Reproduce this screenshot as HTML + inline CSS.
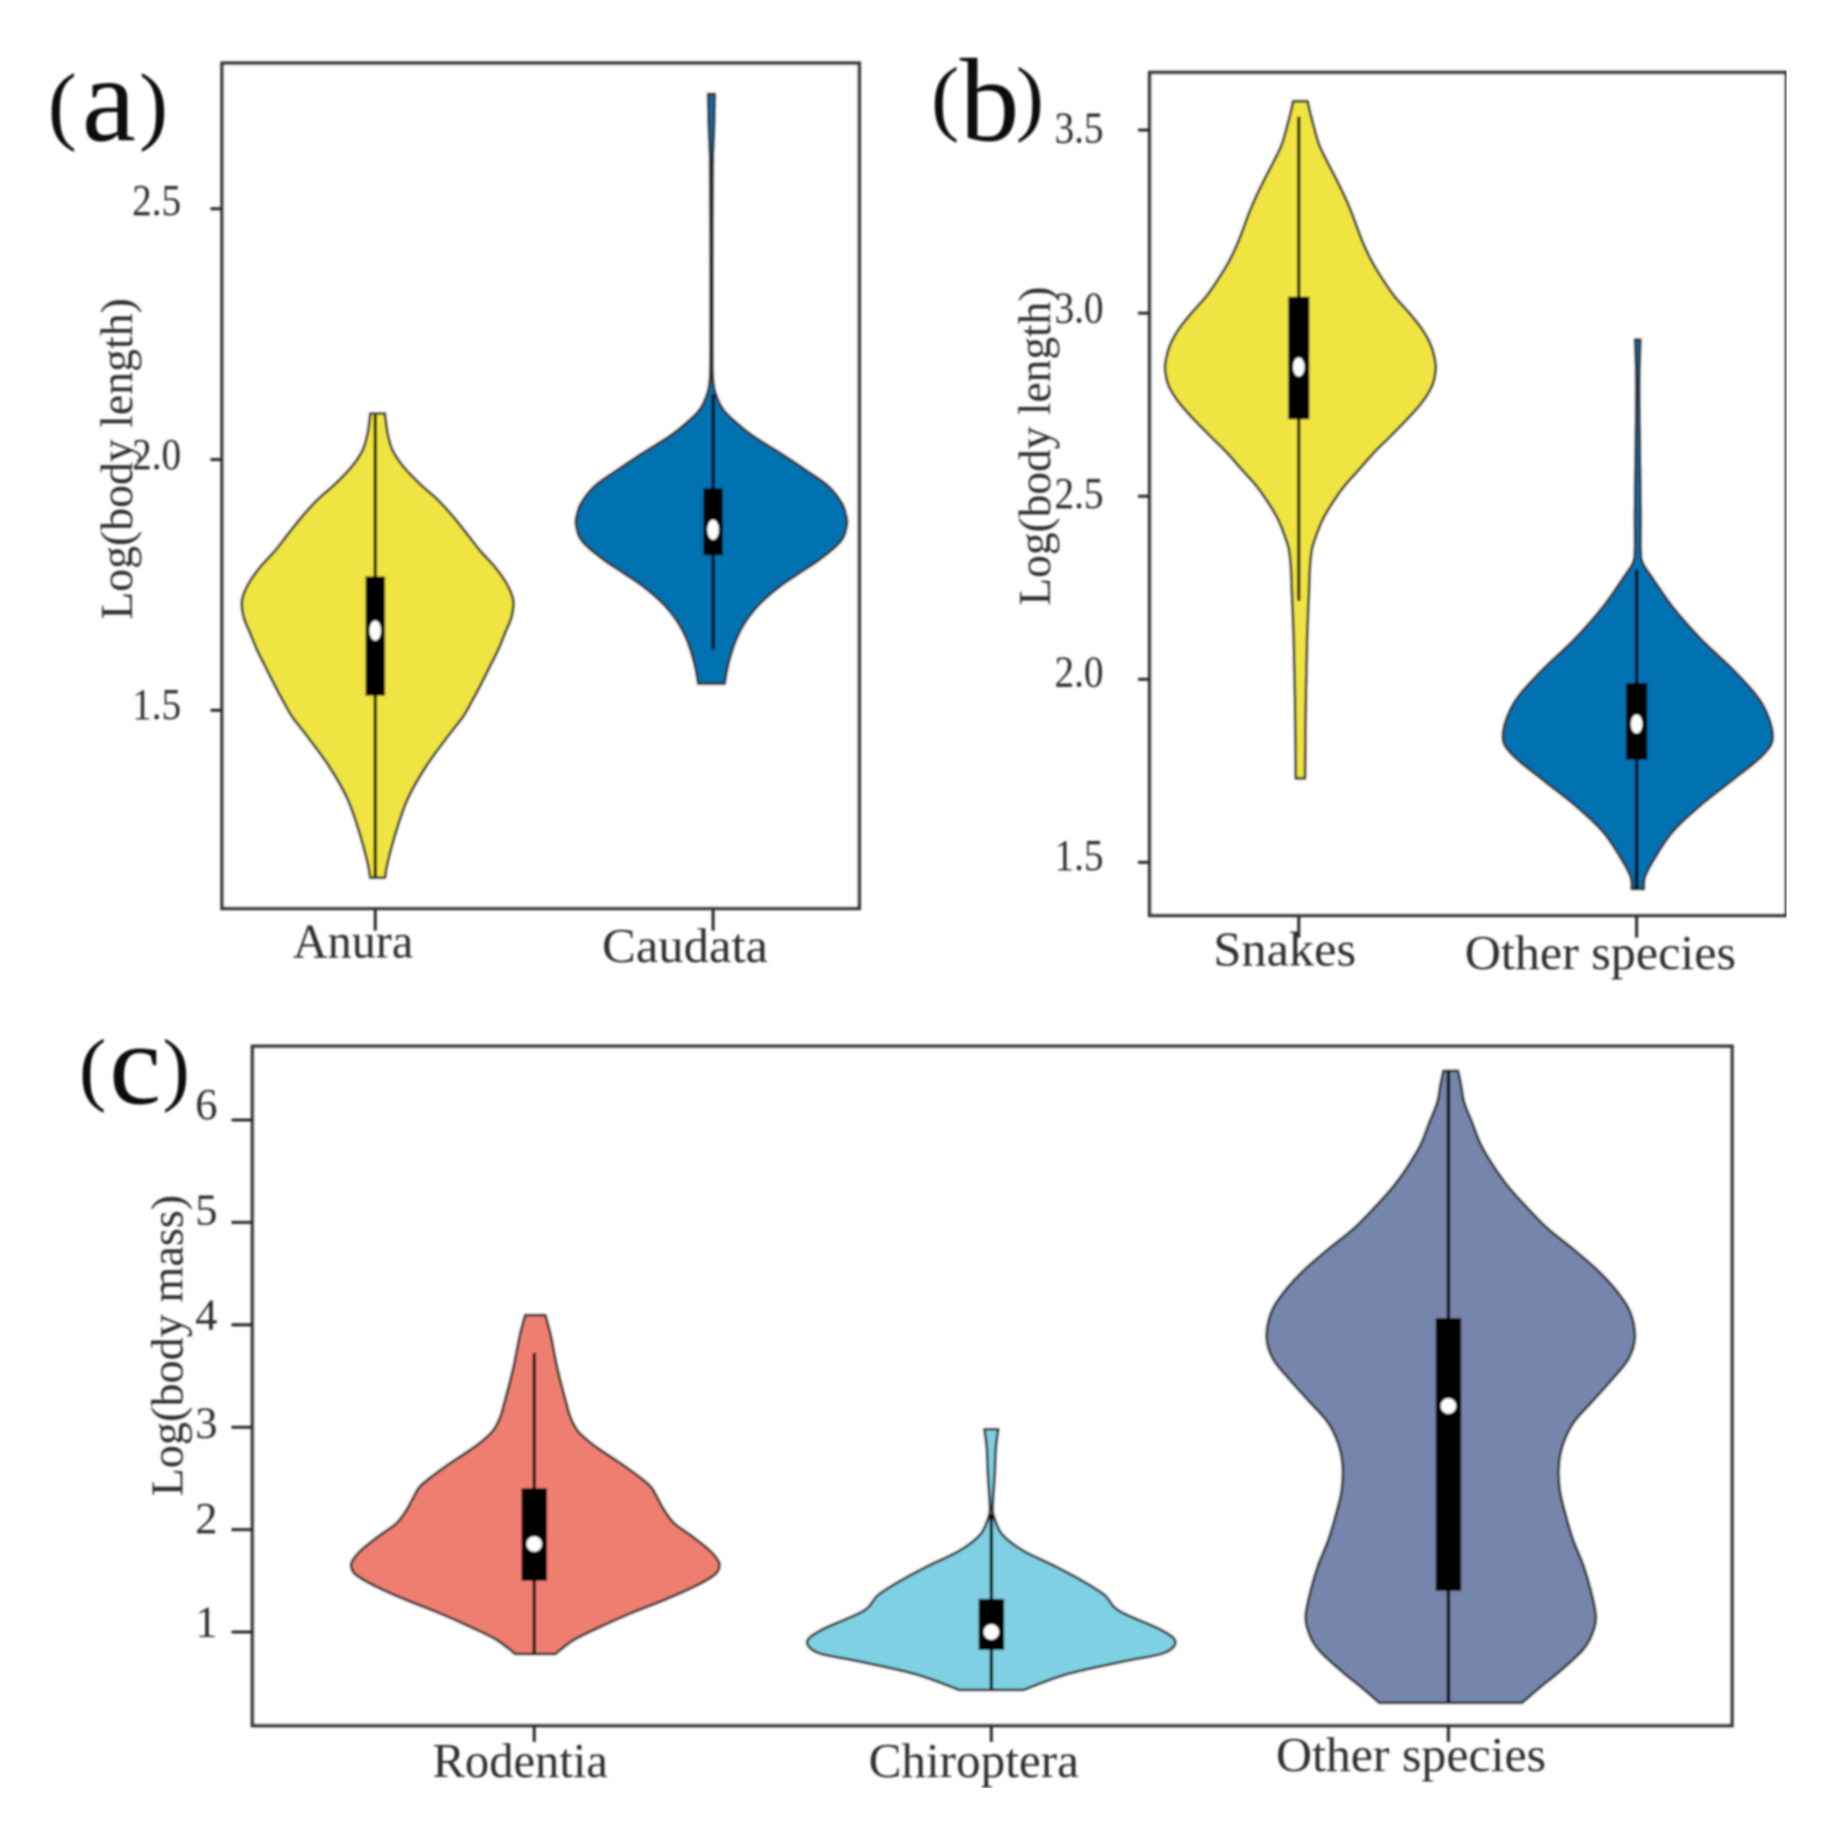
<!DOCTYPE html>
<html lang="en">
<head>
<meta charset="utf-8">
<title>Violin plots of body length and body mass</title>
<style>
  html, body { margin: 0; padding: 0; background: #fff; }
  svg { display: block; }
  text { font-family: "Liberation Serif", "Times New Roman", serif; fill: #2e2e2e; }
</style>
</head>
<body>
<svg id="figure" xmlns="http://www.w3.org/2000/svg" width="1833" height="1825" viewBox="0 0 1568 1561">
  <defs>
    <filter id="soft" x="0" y="0" width="100%" height="100%" filterUnits="objectBoundingBox">
      <feGaussianBlur stdDeviation="0.8"/>
    </filter>
  </defs>
  <rect x="0" y="0" width="1568" height="1561" fill="#ffffff"/>
  <g id="plot-root" filter="url(#soft)">
    <g id="panel-a"></g>
    <g id="panel-b"></g>
    <g id="panel-c"></g>
    <text style="fill:#111"><tspan x="41" y="114" font-size="74">(</tspan><tspan x="70" y="120" font-size="104">a</tspan><tspan x="119" y="114" font-size="74">)</tspan></text>
    <text style="fill:#111"><tspan x="796.5" y="107" font-size="72">(</tspan><tspan x="821" y="120" font-size="102">b</tspan><tspan x="869" y="107" font-size="72">)</tspan></text>
    <text style="fill:#111"><tspan x="67.6" y="937" font-size="70">(</tspan><tspan x="93.5" y="944" font-size="100">c</tspan><tspan x="139" y="937" font-size="70">)</tspan></text>
    <text transform="translate(113 530) rotate(-90)" font-size="39" textLength="275" lengthAdjust="spacingAndGlyphs">Log(body length)</text>
    <text transform="translate(898 518) rotate(-90)" font-size="39" textLength="273" lengthAdjust="spacingAndGlyphs">Log(body length)</text>
    <text transform="translate(156 1280) rotate(-90)" font-size="39" textLength="258" lengthAdjust="spacingAndGlyphs">Log(body mass)</text>
  </g>
</svg>
<script>
// ---------- Panel (a) data ----------
const panelACategories = ['Anura', 'Caudata'];
const panelATicks = [1.5, 2.0, 2.5];
const panelATickLabels = ['1.5', '2.0', '2.5'];
const anuraValues = [2.092, 2.052, 2.019, 1.986, 1.952, 1.919, 1.886, 1.853, 1.819, 1.786, 1.753, 1.720, 1.686, 1.653, 1.620, 1.587, 1.554, 1.520, 1.487, 1.452, 1.389, 1.325, 1.261, 1.197, 1.166];
const anuraDensity = [0.054, 0.074, 0.11, 0.19, 0.31, 0.447, 0.558, 0.656, 0.754, 0.865, 0.951, 1.0, 0.988, 0.939, 0.889, 0.828, 0.767, 0.70, 0.63, 0.53, 0.36, 0.225, 0.14, 0.075, 0.055];
const anuraBox = { low: 1.166, q1: 1.529, median: 1.659, q3: 1.767, high: 2.089 };
const caudataValues = [2.729, 2.662, 2.586, 2.408, 2.204, 2.16, 2.138, 2.112, 2.092, 2.065, 2.045, 2.012, 1.979, 1.946, 1.912, 1.886, 1.872, 1.846, 1.826, 1.799, 1.773, 1.746, 1.713, 1.680, 1.646, 1.613, 1.580, 1.553];
const caudataDensity = [0.025, 0.02, 0.01, 0.008, 0.008, 0.012, 0.024, 0.06, 0.11, 0.22, 0.317, 0.512, 0.695, 0.866, 0.963, 0.995, 1.0, 0.975, 0.915, 0.79, 0.646, 0.50, 0.36, 0.26, 0.19, 0.146, 0.115, 0.098];
const caudataBox = { low: 1.621, q1: 1.809, median: 1.86, q3: 1.943, high: 2.13 };

// ---------- Panel (b) data ----------
const panelBCategories = ['Snakes', 'Other species'];
const panelBTicks = [1.5, 2.0, 2.5, 3.0, 3.5];
const panelBTickLabels = ['1.5', '2.0', '2.5', '3.0', '3.5'];
const snakesValues = [3.579, 3.55, 3.505, 3.459, 3.413, 3.368, 3.322, 3.276, 3.231, 3.185, 3.139, 3.094, 3.048, 3.002, 2.957, 2.911, 2.865, 2.838, 2.801, 2.756, 2.71, 2.664, 2.619, 2.573, 2.527, 2.482, 2.436, 2.39, 2.354, 2.30, 2.249, 2.109, 1.934, 1.729];
const snakesDensity = [0.054, 0.071, 0.103, 0.14, 0.20, 0.263, 0.324, 0.378, 0.423, 0.472, 0.533, 0.607, 0.693, 0.803, 0.90, 0.968, 1.0, 1.0, 0.975, 0.90, 0.79, 0.668, 0.545, 0.435, 0.324, 0.238, 0.165, 0.115, 0.085, 0.07, 0.065, 0.05, 0.04, 0.035];
const snakesBox = { low: 2.214, q1: 2.71, median: 2.853, q3: 3.045, high: 3.537 };
const otherLengthValues = [2.928, 2.809, 2.634, 2.459, 2.354, 2.319, 2.284, 2.197, 2.109, 2.021, 1.934, 1.846, 1.794, 1.724, 1.654, 1.584, 1.514, 1.462, 1.427];
const otherLengthDensity = [0.02, 0.012, 0.016, 0.022, 0.022, 0.035, 0.095, 0.26, 0.47, 0.72, 0.92, 1.0, 0.93, 0.70, 0.46, 0.26, 0.13, 0.055, 0.045];
const otherLengthBox = { low: 1.427, q1: 1.78, median: 1.878, q3: 1.99, high: 2.30 };

// ---------- Panel (c) data ----------
const panelCCategories = ['Rodentia', 'Chiroptera', 'Other species'];
const panelCTicks = [1, 2, 3, 4, 5, 6];
const panelCTickLabels = ['1', '2', '3', '4', '5', '6'];
const rodentiaValues = [4.095, 3.916, 3.754, 3.591, 3.428, 3.266, 3.103, 2.973, 2.875, 2.777, 2.647, 2.517, 2.42, 2.322, 2.191, 2.061, 1.931, 1.801, 1.703, 1.638, 1.557, 1.443, 1.312, 1.182, 1.052, 0.922, 0.785];
const rodentiaDensity = [0.055, 0.082, 0.10, 0.118, 0.14, 0.164, 0.19, 0.227, 0.282, 0.355, 0.464, 0.564, 0.627, 0.66, 0.70, 0.755, 0.855, 0.945, 0.991, 1.0, 0.973, 0.864, 0.70, 0.518, 0.355, 0.209, 0.109];
const rodentiaBox = { low: 0.785, q1: 1.499, median: 1.859, q3: 2.405, high: 3.726 };
const chiropteraValues = [2.98, 2.80, 2.543, 2.3, 2.183, 2.106, 1.952, 1.797, 1.643, 1.489, 1.36, 1.206, 1.026, 0.907, 0.794, 0.717, 0.589, 0.434];
const chiropteraDensity = [0.038, 0.025, 0.019, 0.01, 0.008, 0.018, 0.06, 0.171, 0.346, 0.505, 0.616, 0.695, 0.917, 1.0, 0.937, 0.73, 0.413, 0.175];
const chiropteraBox = { low: 0.434, q1: 0.825, median: 1.0, q3: 1.324, high: 2.157 };
const otherMassValues = [6.481, 6.337, 6.173, 5.968, 5.762, 5.557, 5.351, 5.146, 4.94, 4.734, 4.529, 4.324, 4.118, 3.871, 3.666, 3.46, 3.255, 3.05, 2.844, 2.638, 2.392, 2.145, 1.899, 1.652, 1.405, 1.159, 0.994, 0.83, 0.624, 0.46, 0.308];
const otherMassDensity = [0.04, 0.057, 0.073, 0.118, 0.163, 0.23, 0.312, 0.414, 0.527, 0.669, 0.80, 0.904, 0.976, 1.0, 0.965, 0.873, 0.771, 0.669, 0.612, 0.588, 0.592, 0.624, 0.665, 0.72, 0.761, 0.788, 0.771, 0.72, 0.598, 0.486, 0.388];
const otherMassBox = { low: 0.308, q1: 1.401, median: 3.207, q3: 4.066, high: 6.481 };

// ---------- Rendering ----------
const SVG_NS = 'http://www.w3.org/2000/svg';
const INK = '#2c2c2c';

function make(parent, tag, attrs) {
  const node = document.createElementNS(SVG_NS, tag);
  for (const key in attrs) node.setAttribute(key, attrs[key]);
  parent.appendChild(node);
  return node;
}

function linearScale(d0, r0, d1, r1) {
  return function (v) { return r0 + (v - d0) * (r1 - r0) / (d1 - d0); };
}

function smoothSegments(pts) {
  let d = '';
  for (let i = 0; i < pts.length - 1; i++) {
    const p0 = pts[Math.max(i - 1, 0)];
    const p1 = pts[i];
    const p2 = pts[i + 1];
    const p3 = pts[Math.min(i + 2, pts.length - 1)];
    const c1x = p1[0] + (p2[0] - p0[0]) / 6;
    const c1y = p1[1] + (p2[1] - p0[1]) / 6;
    const c2x = p2[0] - (p3[0] - p1[0]) / 6;
    const c2y = p2[1] - (p3[1] - p1[1]) / 6;
    d += ' C' + c1x.toFixed(2) + ' ' + c1y.toFixed(2) + ' ' + c2x.toFixed(2) + ' ' + c2y.toFixed(2) + ' ' + p2[0].toFixed(2) + ' ' + p2[1].toFixed(2);
  }
  return d;
}

function violinPath(values, density, cx, halfWidth, yScale) {
  const right = values.map(function (v, i) { return [cx + density[i] * halfWidth, yScale(v)]; });
  const left = values.map(function (v, i) { return [cx - density[i] * halfWidth, yScale(v)]; }).reverse();
  return 'M' + right[0][0].toFixed(2) + ' ' + right[0][1].toFixed(2) + smoothSegments(right) +
    ' L' + left[0][0].toFixed(2) + ' ' + left[0][1].toFixed(2) + smoothSegments(left) + ' Z';
}

function drawPanel(cfg) {
  const g = document.getElementById(cfg.id);
  const slug = cfg.id;
  const yScale = linearScale(cfg.yDomain[0], cfg.yRange[0], cfg.yDomain[1], cfg.yRange[1]);
  const xScale = linearScale(0, cfg.xRange[0], 1, cfg.xRange[1]);
  const span = cfg.categories.length - 1;

  const frame = make(g, 'rect', { x: cfg.left, y: cfg.top, width: cfg.right - cfg.left, height: cfg.bottom - cfg.top, fill: '#fff', stroke: '#3a3a3a', 'stroke-width': 3.2 });
  
  

  cfg.categories.forEach(function (cat, i) {
    const key = cat.toLowerCase().replace(/\s+/g, '-');
    const x = xScale(i / span);
    const s = cfg.series[i];
    const lay = cfg.labelLayout[i];

    const body = make(g, 'path', { d: violinPath(s.values, s.density, x + lay.bodyDx, cfg.halfWidth, yScale), fill: s.color, stroke: INK, 'stroke-width': 2.4, 'stroke-linejoin': 'round' });
    
    

    const whisker = make(g, 'line', { x1: x, x2: x, y1: yScale(s.box.low), y2: yScale(s.box.high), stroke: '#000', 'stroke-width': 3 });
    
    

    const box = make(g, 'rect', { x: x - cfg.boxHalf, width: cfg.boxHalf * 2, y: yScale(s.box.q3), height: yScale(s.box.q1) - yScale(s.box.q3), fill: '#000' });
    
    

    const med = make(g, 'ellipse', { cx: x, cy: yScale(s.box.median), rx: cfg.dotRx, ry: cfg.dotRy, fill: '#fff' });
    
    

    const tick = make(g, 'line', { x1: x, x2: x, y1: cfg.bottom, y2: cfg.bottom + cfg.xTick, stroke: INK, 'stroke-width': 2.6 });
    
    

    const label = make(g, 'text', { x: x + lay.dx, y: lay.y, 'text-anchor': 'middle', 'font-size': 42, textLength: lay.w, lengthAdjust: 'spacingAndGlyphs' });
    label.textContent = cat;
    
    
  });

  cfg.ticks.forEach(function (t, i) {
    const y = yScale(t);
    const tick = make(g, 'line', { x1: cfg.left - cfg.yTick, x2: cfg.left, y1: y, y2: y, stroke: INK, 'stroke-width': 2.6 });
    
    

    const attrs = { x: cfg.labelRight, y: y + cfg.labelShift[i], 'text-anchor': 'end', 'font-size': 38 };
    if (cfg.tickLabels[i].length > 1) {
      attrs.textLength = 42;
      attrs.lengthAdjust = 'spacingAndGlyphs';
    }
    const label = make(g, 'text', attrs);
    label.textContent = cfg.tickLabels[i];
    
    
  });
}

drawPanel({
  id: 'panel-a', left: 190, right: 735, top: 54, bottom: 777,
  yDomain: [2.0, 2.5], yRange: [393, 178.5], xRange: [321, 610],
  categories: panelACategories, ticks: panelATicks, tickLabels: panelATickLabels,
  halfWidth: 116, boxHalf: 8.4, dotRx: 4.8, dotRy: 8.5, xTick: 19, yTick: 10, labelRight: 155, labelShift: [7.5, 8, 5.5],
  labelLayout: [{ dx: -19, y: 819, w: 103, bodyDx: 2 }, { dx: -24, y: 823, w: 142, bodyDx: -1.4 }],
  series: [
    { values: anuraValues, density: anuraDensity, box: anuraBox, color: '#F0E442' },
    { values: caudataValues, density: caudataDensity, box: caudataBox, color: '#0072B2' }
  ]
});

drawPanel({
  id: 'panel-b', left: 983.5, right: 1528, top: 62, bottom: 783,
  yDomain: [2.0, 3.0], yRange: [581, 267.8], xRange: [1111, 1400],
  categories: panelBCategories, ticks: panelBTicks, tickLabels: panelBTickLabels,
  halfWidth: 115.5, boxHalf: 9.2, dotRx: 4.8, dotRy: 8, xTick: 19, yTick: 10, labelRight: 944, labelShift: [6.5, 6, 10, 8, 10.5],
  labelLayout: [{ dx: -12, y: 826, w: 122, bodyDx: 1.4 }, { dx: -31, y: 829, w: 232, bodyDx: 1 }],
  series: [
    { values: snakesValues, density: snakesDensity, box: snakesBox, color: '#F0E442' },
    { values: otherLengthValues, density: otherLengthDensity, box: otherLengthBox, color: '#0072B2' }
  ]
});

drawPanel({
  id: 'panel-c', left: 216, right: 1481.5, top: 895, bottom: 1476,
  yDomain: [1, 6], yRange: [1396, 958], xRange: [457, 1239],
  categories: panelCCategories, ticks: panelCTicks, tickLabels: panelCTickLabels,
  halfWidth: 157.5, boxHalf: 11, dotRx: 6.5, dotRy: 6.5, xTick: 14, yTick: 18, labelRight: 186, labelShift: [4, 3, 9, 4, 2, -1],
  labelLayout: [{ dx: -12, y: 1520, w: 150, bodyDx: 0.9 }, { dx: -15, y: 1520, w: 180, bodyDx: 0 }, { dx: -32, y: 1515, w: 231, bodyDx: 2 }],
  series: [
    { values: rodentiaValues, density: rodentiaDensity, box: rodentiaBox, color: '#EE7F70' },
    { values: chiropteraValues, density: chiropteraDensity, box: chiropteraBox, color: '#7FD0E3' },
    { values: otherMassValues, density: otherMassDensity, box: otherMassBox, color: '#7685AB' }
  ]
});
</script>
</body>
</html>
